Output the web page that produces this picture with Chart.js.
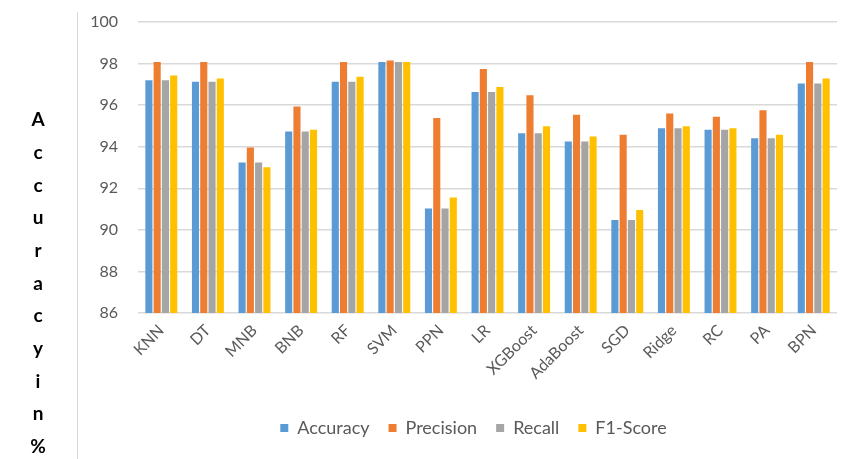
<!DOCTYPE html>
<html>
<head>
<meta charset="utf-8">
<script src="https://cdn.jsdelivr.net/npm/chart.js@4.4.1/dist/chart.umd.min.js"></script>
<style>
  html, body { margin: 0; padding: 0; background: #ffffff; }
  #wrap { width: 850px; height: 459px; position: relative; }
</style>
</head>
<body>
<div id="wrap"><canvas id="chart" width="850" height="459"></canvas></div>
<script>
// Classifier names along the x axis
const models = ['KNN', 'DT', 'MNB', 'BNB', 'RF', 'SVM', 'PPN', 'LR', 'XGBoost', 'AdaBoost', 'SGD', 'Ridge', 'RC', 'PA', 'BPN'];

// Scores per classifier (%)
const accuracy  = [97.20, 97.12, 93.24, 94.73, 97.12, 98.07, 91.03, 96.63, 94.65, 94.25, 90.47, 94.89, 94.82, 94.41, 97.04];
const precision = [98.07, 98.07, 93.96, 95.94, 98.07, 98.15, 95.38, 97.74, 96.47, 95.54, 94.57, 95.60, 95.44, 95.76, 98.07];
const recall    = [97.20, 97.12, 93.24, 94.73, 97.12, 98.07, 91.03, 96.63, 94.65, 94.25, 90.47, 94.89, 94.82, 94.41, 97.04];
const f1score   = [97.43, 97.28, 93.01, 94.82, 97.36, 98.07, 91.56, 96.87, 94.98, 94.49, 90.95, 94.98, 94.89, 94.57, 97.28];

// Y axis range and step
const yMin = 86;
const yMax = 100;
const yStep = 2;

// Axis title, stacked one character per line
const yTitleChars = ['A', 'c', 'c', 'u', 'r', 'a', 'c', 'y', 'i', 'n', '%'];

const FONT = "Lato, 'Open Sans', 'Liberation Sans', sans-serif";

// Draws the stacked y-axis title and the thin divider line beside it
const sideTitle = {
  id: 'sideTitle',
  afterLayout(chart) {
    // nudge the legend a little to the right of the plot's centre
    chart.legend.left += 15;
    chart.legend.right += 15;
  },
  afterDraw(chart) {
    const ctx = chart.ctx;
    ctx.save();
    ctx.strokeStyle = '#d9d9d9';
    ctx.lineWidth = 1;
    ctx.beginPath();
    ctx.moveTo(77.5, 12);
    ctx.lineTo(77.5, 459);
    ctx.stroke();

    ctx.fillStyle = '#000000';
    ctx.font = "bold 19px " + FONT;
    ctx.textAlign = 'center';
    ctx.textBaseline = 'middle';
    const top = 120, gap = 32.7;
    yTitleChars.forEach((ch, i) => ctx.fillText(ch, 38, top + i * gap));
    ctx.restore();
  }
};

const series = [
  { label: 'Accuracy',  data: accuracy,  color: '#5B9BD5' },
  { label: 'Precision', data: precision, color: '#ED7D31' },
  { label: 'Recall',    data: recall,    color: '#A5A5A5' },
  { label: 'F1-Score',  data: f1score,   color: '#FFC000' }
];

new Chart(document.getElementById('chart'), {
  type: 'bar',
  data: {
    labels: models,
    datasets: series.map(s => ({
      label: s.label,
      data: s.data,
      backgroundColor: s.color,
      borderWidth: 0,
      barPercentage: 0.86,
      categoryPercentage: 0.71
    }))
  },
  options: {
    responsive: false,
    animation: false,
    layout: { padding: { left: 80, right: 13, top: 22, bottom: 12 } },
    plugins: {
      tooltip: { enabled: false },
      legend: {
        position: 'bottom',
        labels: {
          boxWidth: 8,
          boxHeight: 8,
          padding: 19,
          color: '#595959',
          font: { family: FONT, size: 18 }
        }
      }
    },
    scales: {
      x: {
        grid: { display: false, drawTicks: false },
        border: { display: false },
        afterFit(scale) { scale.height = 87; },
        ticks: {
          minRotation: 45,
          maxRotation: 45,
          autoSkip: false,
          padding: 8,
          color: '#595959',
          font: { family: FONT, size: 16 }
        }
      },
      y: {
        min: yMin,
        max: yMax,
        afterFit(scale) {
          scale.width = 58;
          scale.paddingTop = 0;
          scale.paddingBottom = 0;
        },
        grid: { color: '#d9d9d9', lineWidth: 1.5, drawTicks: false },
        border: { display: false },
        ticks: {
          stepSize: yStep,
          padding: 20,
          color: '#595959',
          font: { family: FONT, size: 16 }
        }
      }
    }
  },
  plugins: [sideTitle]
});
</script>
</body>
</html>
